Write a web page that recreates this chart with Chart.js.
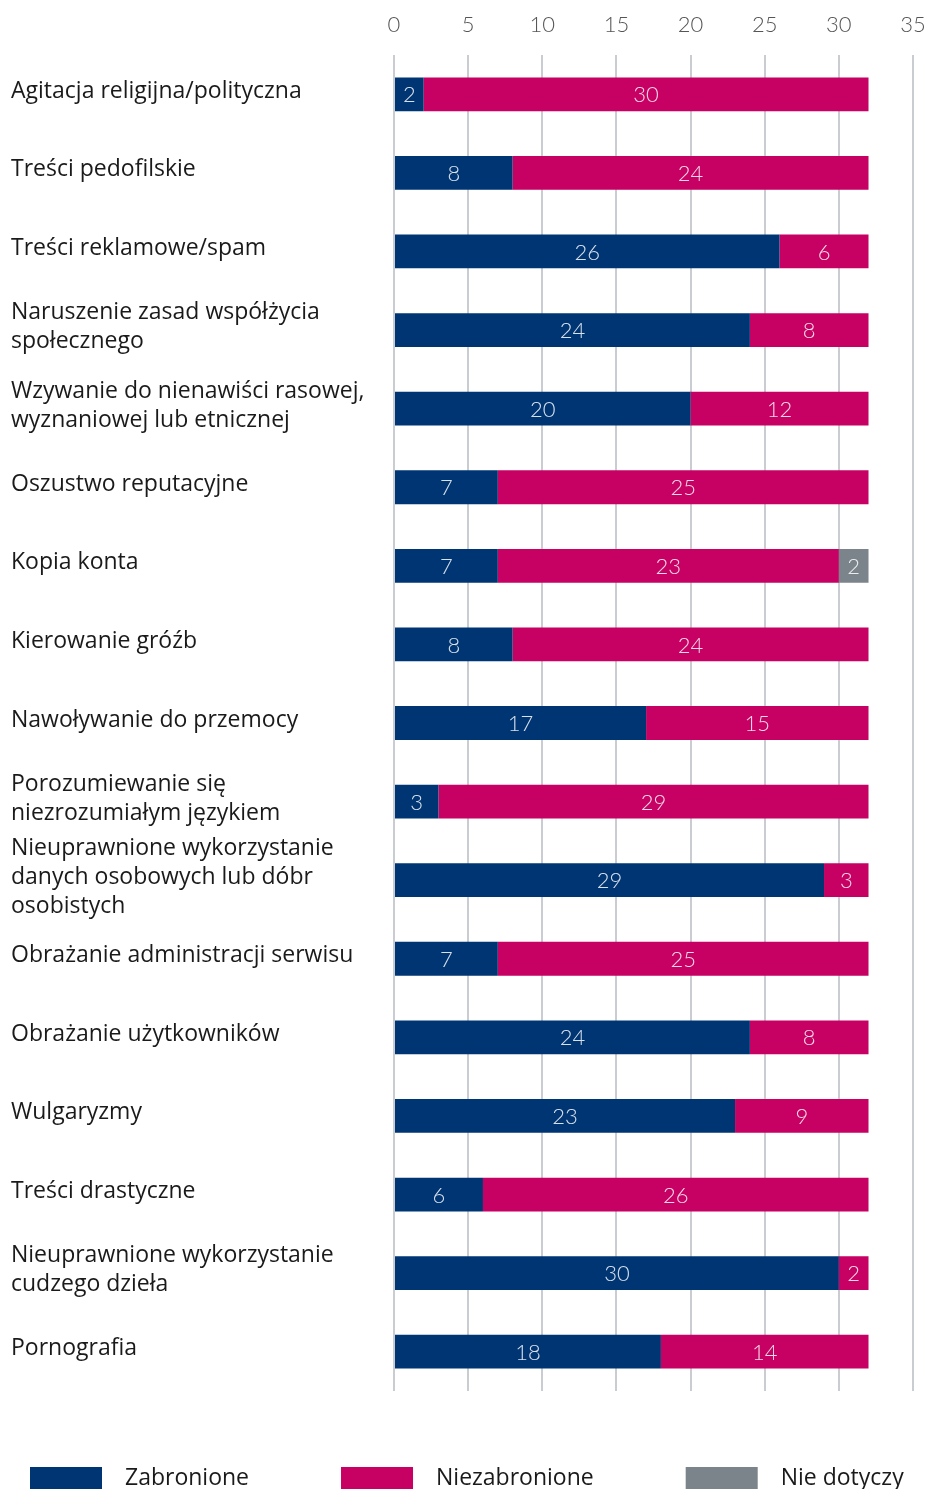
<!DOCTYPE html>
<html>
<head>
<meta charset="utf-8">
<script src="https://cdn.jsdelivr.net/npm/chart.js@4"></script>
<style>
  html, body { margin: 0; padding: 0; background: #fff; }
  #wrap { width: 931px; height: 1489px; position: relative; }
</style>
</head>
<body>
<div id="wrap"><canvas id="graph"></canvas></div>
<script>
// =========================== Data
const categories = [
    'Agitacja religijna/polityczna',
    'Treści pedofilskie',
    'Treści reklamowe/spam',
    ['Naruszenie zasad współżycia', 'społecznego'],
    ['Wzywanie do nienawiści rasowej,', 'wyznaniowej lub etnicznej'],
    'Oszustwo reputacyjne',
    'Kopia konta',
    'Kierowanie gróźb',
    'Nawoływanie do przemocy',
    ['Porozumiewanie się', 'niezrozumiałym językiem'],
    ['Nieuprawnione wykorzystanie', 'danych osobowych lub dóbr', 'osobistych'],
    'Obrażanie administracji serwisu',
    'Obrażanie użytkowników',
    'Wulgaryzmy',
    'Treści drastyczne',
    ['Nieuprawnione wykorzystanie', 'cudzego dzieła'],
    'Pornografia'
]
const zabronione    = [2, 8, 26, 24, 20, 7, 7, 8, 17, 3, 29, 7, 24, 23, 6, 30, 18]
const niezabronione = [30, 24, 6, 8, 12, 25, 23, 24, 15, 29, 3, 25, 8, 9, 26, 2, 14]
const nieDotyczy    = [0, 0, 0, 0, 0, 0, 2, 0, 0, 0, 0, 0, 0, 0, 0, 0, 0]
const seriesNames   = ['Zabronione', 'Niezabronione', 'Nie dotyczy']
const xTicks        = [0, 5, 10, 15, 20, 25, 30, 35]

const colors = ['#003574', '#C70063', '#7B838B']
const FONT = '"Open Sans", "Noto Sans", sans-serif'
const THIN = 'Lato, "Open Sans", sans-serif'

// =========================== Plugins
// value labels in the middle of every segment
const segLabels = {
    id: 'segLabels',
    afterDatasetsDraw(chart){
        const ctx = chart.ctx
        ctx.save()
        ctx.font = '300 22px ' + THIN
        ctx.fillStyle = 'rgba(255,255,255,0.85)'
        ctx.textAlign = 'center'
        ctx.textBaseline = 'middle'
        chart.data.datasets.forEach((ds, i) => {
            const meta = chart.getDatasetMeta(i)
            meta.data.forEach((bar, j) => {
                const v = ds.data[j]
                if(!v) return
                const p = bar.getProps(['x', 'y', 'base'], true)
                ctx.fillText(String(v), (p.x + p.base) / 2, p.y + 1)
            })
        })
        ctx.restore()
    }
}

// legend along the bottom edge
const bottomLegend = {
    id: 'bottomLegend',
    afterDraw(chart){
        const ctx = chart.ctx
        ctx.save()
        ctx.font = '23px ' + FONT
        ctx.textBaseline = 'middle'
        ctx.textAlign = 'left'
        let x = 30
        const y = 1467
        chart.data.datasets.forEach(ds => {
            ctx.fillStyle = ds.backgroundColor
            ctx.fillRect(x, y, 72, 22)
            ctx.fillStyle = '#1a1a1a'
            ctx.fillText(ds.label, x + 95, y + 11)
            x += 95 + ctx.measureText(ds.label).width + 92
        })
        ctx.restore()
    }
}

// =========================== Chart
const dv = document.getElementById('graph')

new Chart(dv, {
    type: 'bar',
    data: {
        labels: categories,
        datasets: [
            { label: seriesNames[0], data: zabronione,    backgroundColor: colors[0] },
            { label: seriesNames[1], data: niezabronione, backgroundColor: colors[1] },
            { label: seriesNames[2], data: nieDotyczy,    backgroundColor: colors[2] }
        ]
    },
    options: {
        indexAxis: 'y',
        responsive: true,
        maintainAspectRatio: false,
        animation: false,
        categoryPercentage: 1,
        barPercentage: 0.43,
        layout: { padding: { left: 11, right: 18, top: 5, bottom: 98 } },
        scales: {
            x: {
                position: 'top',
                stacked: true,
                min: 0,
                max: 35,
                afterBuildTicks: axis => { axis.ticks = xTicks.map(v => ({ value: v })) },
                afterFit: axis => {
                    axis.height = 50
                    axis.paddingLeft = 0
                    axis.paddingRight = 0
                },
                border: { display: false },
                grid: { color: '#C9CDD2', lineWidth: 2, drawTicks: false },
                ticks: {
                    padding: 17,
                    color: '#555',
                    font: { family: THIN, size: 22, weight: '300' }
                }
            },
            y: {
                stacked: true,
                afterFit: axis => { axis.width = 383 },
                border: { display: false },
                grid: { display: false },
                ticks: {
                    autoSkip: false,
                    crossAlign: 'far',
                    labelOffset: -3,
                    color: '#1a1a1a',
                    font: { family: FONT, size: 23, lineHeight: 1.26 }
                }
            }
        },
        plugins: {
            legend: { display: false },
            tooltip: { enabled: false }
        }
    },
    plugins: [segLabels, bottomLegend]
})
</script>
</body>
</html>
